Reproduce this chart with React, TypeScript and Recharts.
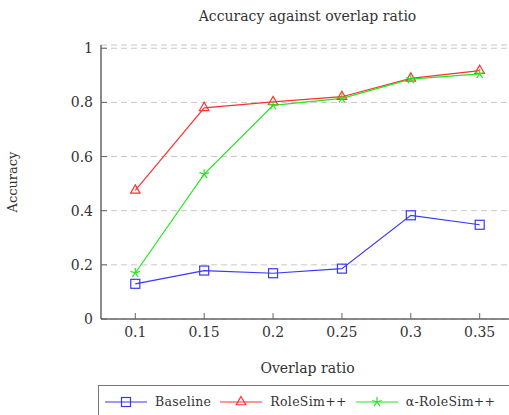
import { CartesianGrid, Line, LineChart, XAxis, YAxis } from "recharts";

const OVERLAP = [0.1, 0.15, 0.2, 0.25, 0.3, 0.35];
const BASELINE = [0.13, 0.179, 0.169, 0.186, 0.383, 0.348];
const ROLESIM = [0.475, 0.78, 0.802, 0.821, 0.889, 0.917];
const ALPHA_ROLESIM = [0.17, 0.535, 0.789, 0.815, 0.886, 0.905];
const Y_TICKS = [0, 0.2, 0.4, 0.6, 0.8, 1];

const SERIES = [
  { key: "baseline", name: "Baseline", color: "#3838ff", mark: "square" },
  { key: "rolesim", name: "RoleSim++", color: "#ff3030", mark: "triangle" },
  { key: "alpha", name: "α-RoleSim++", color: "#22e822", mark: "star" },
];

const data = OVERLAP.map((x, i) => ({
  x,
  baseline: BASELINE[i],
  rolesim: ROLESIM[i],
  alpha: ALPHA_ROLESIM[i],
}));

const FONT = "'DejaVu Serif', serif";
const TEXT = "#333";
const AXIS = "#666";

function Mark({ cx, cy, mark, color }: any) {
  if (cx == null || cy == null) return null;
  if (mark === "square") {
    return <rect x={cx - 4.5} y={cy - 4.5} width={9} height={9} fill="none" stroke={color} strokeWidth={1.2} />;
  }
  if (mark === "triangle") {
    const r = 5.5;
    const pts = `${cx},${cy - r} ${cx + r * 0.866},${cy + r / 2} ${cx - r * 0.866},${cy + r / 2}`;
    return <polygon points={pts} fill="none" stroke={color} strokeWidth={1.2} />;
  }
  const arms = [0, 1, 2, 3, 4].map((k) => {
    const a = (-90 + 72 * k) * (Math.PI / 180);
    return <line key={k} x1={cx} y1={cy} x2={cx + 5 * Math.cos(a)} y2={cy + 5 * Math.sin(a)} stroke={color} strokeWidth={1.2} />;
  });
  return <g>{arms}</g>;
}

const BottomTick = ({ x, y, payload }: any) => (
  <g>
    <line x1={x} y1={y} x2={x} y2={y - 6} stroke={AXIS} strokeWidth={1} />
    <text x={x} y={y + 18} textAnchor="middle" fontFamily={FONT} fontSize={14} fill={TEXT}>
      {payload.value}
    </text>
  </g>
);

const TopTick = ({ x, y }: any) => (
  <line x1={x} y1={y} x2={x} y2={y + 6} stroke={AXIS} strokeWidth={1} />
);

const LeftTick = ({ x, y, payload }: any) => (
  <g>
    <line x1={x} y1={y} x2={x + 6} y2={y} stroke={AXIS} strokeWidth={1} />
    <text x={x - 8} y={y + 5} textAnchor="end" fontFamily={FONT} fontSize={14} fill={TEXT}>
      {payload.value}
    </text>
  </g>
);

function LegendBox() {
  return (
    <div
      style={{
        position: "absolute",
        left: 98,
        top: 385,
        width: 440,
        height: 40,
        border: "1.5px solid #777",
        paddingLeft: 6,
        paddingTop: 8,
        boxSizing: "border-box",
        fontFamily: FONT,
        fontSize: 12.5,
        letterSpacing: 0.3,
        color: TEXT,
      }}
    >
      <div style={{ display: "flex", alignItems: "center" }}>
        {SERIES.map((s) => (
          <div key={s.key} style={{ display: "flex", alignItems: "center", marginRight: 9 }}>
            <svg width={42} height={14} style={{ marginRight: 8 }}>
              <line x1={0} y1={7} x2={42} y2={7} stroke={s.color} strokeWidth={1.2} />
              <Mark cx={21} cy={7} mark={s.mark} color={s.color} />
            </svg>
            <span>{s.name}</span>
          </div>
        ))}
      </div>
    </div>
  );
}

export default function App() {
  return (
    <div
      style={{
        position: "absolute",
        left: 0,
        top: 0,
        width: 509,
        height: 415,
        overflow: "hidden",
        background: "#fff",
      }}
    >
      <div
        style={{
          position: "absolute",
          top: 8,
          left: 101,
          width: 413,
          textAlign: "center",
          fontFamily: FONT,
          fontSize: 14,
          color: TEXT,
        }}
      >
        Accuracy against overlap ratio
      </div>
      <LineChart width={530} height={415} data={data} margin={{ top: 45, right: 16, bottom: 0, left: 0 }}>
        <CartesianGrid vertical={false} stroke="#c8c8c8" strokeDasharray="6 4" />
        <XAxis
          xAxisId="bottom"
          dataKey="x"
          type="number"
          domain={[0.0751, 0.3749]}
          ticks={OVERLAP}
          height={96}
          tickSize={0}
          tickMargin={0}
          tick={<BottomTick />}
          axisLine={{ stroke: AXIS, strokeWidth: 1.5 }}
          label={{ value: "Overlap ratio", position: "insideTop", offset: 44, fontFamily: FONT, fontSize: 14, fill: TEXT }}
        />
        <XAxis
          xAxisId="top"
          orientation="top"
          dataKey="x"
          type="number"
          domain={[0.0751, 0.3749]}
          ticks={OVERLAP}
          height={0}
          tickSize={0}
          tickMargin={0}
          tick={<TopTick />}
          axisLine={{ stroke: AXIS, strokeWidth: 1.5 }}
        />
        <YAxis
          type="number"
          domain={[0, 1.012]}
          ticks={Y_TICKS}
          width={101}
          tickSize={0}
          tickMargin={0}
          tick={<LeftTick />}
          axisLine={{ stroke: AXIS, strokeWidth: 1.5 }}
          label={{ value: "Accuracy", angle: -90, position: "insideLeft", offset: 12, style: { textAnchor: "middle" }, fontFamily: FONT, fontSize: 13, fill: TEXT }}
        />
        {SERIES.map((s) => (
          <Line
            key={s.key}
            xAxisId="bottom"
            dataKey={s.key}
            name={s.name}
            stroke={s.color}
            strokeWidth={1.2}
            isAnimationActive={false}
            dot={(p: any) => <Mark key={`${s.key}-${p.index}`} cx={p.cx} cy={p.cy} mark={s.mark} color={s.color} />}
            activeDot={false}
          />
        ))}
      </LineChart>
      <LegendBox />
    </div>
  );
}
